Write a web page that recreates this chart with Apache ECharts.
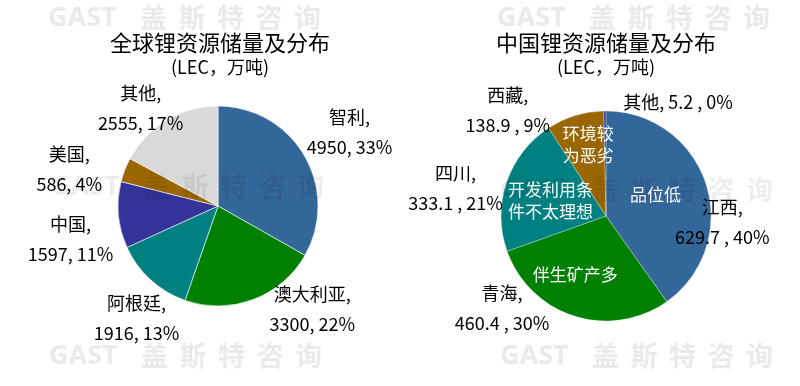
<!DOCTYPE html>
<html><head><meta charset="utf-8">
<script src="https://cdn.jsdelivr.net/npm/echarts@6/dist/echarts.min.js"></script>
<style>html,body{margin:0;padding:0;background:#fff}#c{width:800px;height:386px}</style>
</head><body><div id="c"></div>
<script>
// ---- data ----
const titles = ['全球锂资源储量及分布', '中国锂资源储量及分布'];
const subtitle = '(LEC，万吨)';
const globalNames = ['智利', '澳大利亚', '阿根廷', '中国', '美国', '其他'];
const globalValues = [4950, 3300, 1916, 1597, 586, 2555];
const chinaNames = ['江西', '青海', '四川', '西藏', '其他'];
const chinaValues = [629.7, 460.4, 333.1, 138.9, 5.2];
const chinaNotes = ['品位低', '伴生矿产多', '开发利用条\n件不太理想', '环境较\n为恶劣', ''];
const chinaLabelBreak = [true, true, true, true, false];
const watermark = ['GAST', '盖', '斯', '特', '咨', '询'];

// ---- styles / layout ----
const globalColors = ['#336699', '#008000', '#008080', '#333399', '#996600', '#d9d9d9'];
const chinaColors = ['#336699', '#008000', '#008080', '#996600', '#3a3aa8'];
const globalLabelShift = [[8, -1.5], [44, -31], [15, 7], [-5, 20], [-15.5, 15], [-4, 25]];
const chinaLabelShift = [[-20, 49.5], [-61, -44.5], [-15, 18], [-56, 31], [73.5, 29]];
const chinaNoteShift = [[-3.5, -5], [-14, 6], [-3, 2], [-1.5, -18], [0, 0]];
const FONT = "'Noto Sans CJK SC', 'Noto Sans', sans-serif";
const leftC = [218, 206], rightC = [606, 216];

function mk(names, values, colors) {
  return names.map((n, i) => ({ name: n, value: values[i], itemStyle: { color: colors[i] } }));
}

const wmEls = [];
function addWatermark(x, y, color) {
  wmEls.push({ type: 'text', x: x, y: y, z: 100, silent: true,
    style: { text: watermark[0], font: "bold 27px 'Noto Sans', sans-serif", fill: color, verticalAlign: 'middle' } });
  for (let i = 1; i < watermark.length; i++) {
    wmEls.push({ type: 'text', x: x + 92 + (i - 1) * 38.5, y: y, z: 100, silent: true,
      style: { text: watermark[i], font: "bold 27px 'Noto Sans CJK SC', sans-serif", fill: color, verticalAlign: 'middle' } });
  }
}
addWatermark(48, 18, '#eaeaea');
addWatermark(497, 18, '#eaeaea');
addWatermark(49, 356, '#eaeaea');
addWatermark(500, 356, '#eaeaea');
addWatermark(51, 187, 'rgba(0,0,0,0.07)');
addWatermark(500, 190, 'rgba(0,0,0,0.07)');

const titleBase = (txt, x) => ({
  text: txt, subtext: subtitle, left: x, top: 30, textAlign: 'center', padding: 0, itemGap: 0,
  textStyle: { fontSize: 22, fontWeight: 'normal', color: '#000', lineHeight: 26, fontFamily: FONT },
  subtextStyle: { fontSize: 18, color: '#000', lineHeight: 22, fontFamily: FONT }
});

const outerLabel = { show: true, position: 'inside', color: '#000', fontSize: 18, lineHeight: 30,
  fontFamily: FONT, textBorderWidth: 0, align: 'center' };

const option = {
  animation: false,
  backgroundColor: '#fff',
  title: [titleBase(titles[0], 220), titleBase(titles[1], 606)],
  graphic: { elements: wmEls },
  series: [
    { type: 'pie', center: leftC, radius: [0, 100], startAngle: 90, clockwise: true, z: 2,
      percentPrecision: 0, silent: true, label: { show: false }, labelLine: { show: false },
      itemStyle: { borderColor: '#fff', borderWidth: 0.6 },
      data: mk(globalNames, globalValues, globalColors) },
    { type: 'pie', center: leftC, radius: [0, 280], startAngle: 90, clockwise: true, z: 3,
      percentPrecision: 0, silent: true, labelLine: { show: false },
      itemStyle: { color: 'rgba(0,0,0,0)', borderWidth: 0 },
      label: Object.assign({}, outerLabel, {
        formatter: p => p.name + ',\n' + p.value + ', ' + p.percent + '%' }),
      labelLayout: p => ({ dx: globalLabelShift[p.dataIndex][0], dy: globalLabelShift[p.dataIndex][1] }),
      data: mk(globalNames, globalValues, globalColors.map(() => 'rgba(0,0,0,0)')) },
    { type: 'pie', center: rightC, radius: [0, 105], startAngle: 90, clockwise: true, z: 2,
      percentPrecision: 0, silent: true, labelLine: { show: false },
      itemStyle: { borderColor: '#fff', borderWidth: 0.3 },
      label: { show: true, position: 'inside', color: '#fff', fontSize: 17, lineHeight: 22,
        fontFamily: FONT, textBorderWidth: 0, align: 'center',
        formatter: p => chinaNotes[p.dataIndex] },
      labelLayout: p => ({ dx: chinaNoteShift[p.dataIndex][0], dy: chinaNoteShift[p.dataIndex][1] }),
      data: mk(chinaNames, chinaValues, chinaColors) },
    { type: 'pie', center: rightC, radius: [0, 280], startAngle: 90, clockwise: true, z: 3,
      percentPrecision: 0, silent: true, labelLine: { show: false },
      itemStyle: { color: 'rgba(0,0,0,0)', borderWidth: 0 },
      label: Object.assign({}, outerLabel, {
        formatter: p => p.name + (chinaLabelBreak[p.dataIndex] ? ',\n' : ', ') + p.value + ' , ' + p.percent + '%' }),
      labelLayout: p => ({ dx: chinaLabelShift[p.dataIndex][0], dy: chinaLabelShift[p.dataIndex][1] }),
      data: mk(chinaNames, chinaValues, chinaColors.map(() => 'rgba(0,0,0,0)')) }
  ]
};
echarts.init(document.getElementById('c'), null, { renderer: 'canvas' }).setOption(option);
</script></body></html>
